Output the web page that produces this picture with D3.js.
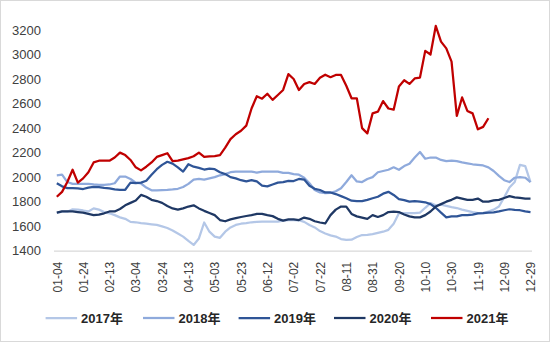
<!DOCTYPE html>
<html><head><meta charset="utf-8">
<script src="https://cdn.jsdelivr.net/npm/d3@7"></script>
<style>body{margin:0;background:#fff}svg{display:block}</style>
</head><body>
<svg id="c" width="550" height="342"></svg>
<script>
// x categories: tick labels every 20 days (leap-year calendar), data sampled every 4 days from 01-04
const tickLabels = ["01-04","01-24","02-13","03-04","03-24","04-13","05-03","05-23","06-12","07-02","07-22","08-11","08-31","09-20","10-10","10-30","11-19","12-09","12-29"];
const tickStepDays = 20;
const sampleStepDays = 4;
const yTicks = [1400,1600,1800,2000,2200,2400,2600,2800,3000,3200];
const seriesNames = ["2017年","2018年","2019年","2020年","2021年"];
const seriesColors = ["#b4c7e7","#8faadc","#2f5597","#1f3864","#c00000"];

const v2017 = [1708,1718,1718,1738,1735,1728,1720,1745,1735,1715, 1705,1690,1672,1660,1635,1632,1625,1620,1615,1610,
  1598,1585,1565,1540,1515,1480,1447,1500,1630,1555, 1515,1505,1555,1590,1610,1620,1625,1632,1635,1638,
  1638,1638,1638,1645,1650,1650,1648,1635,1610,1590, 1560,1540,1525,1515,1495,1488,1490,1512,1528,1530,
  1535,1545,1555,1570,1620,1706,1706,1706,1706,1710, 1750,1788,1770,1775,1765,1755,1748,1735,1725,1715,
  1706,1706,1720,1735,1760,1835,1915,1960,2100,2090, 1960];
const v2018 = [2015,2020,1960,1945,1945,1945,1945,1940,1937,1937, 1940,1950,2005,2005,1985,1955,1948,1915,1893,1893,
  1895,1897,1900,1905,1920,1945,1980,1985,1980,1990, 2000,2015,2025,2040,2045,2045,2045,2045,2037,2045,
  2045,2045,2045,2035,2035,2025,2020,1995,1950,1895, 1875,1870,1872,1885,1910,1960,2015,1965,1960,1985,
  2000,2040,2050,2060,2080,2060,2090,2110,2160,2205, 2150,2160,2160,2140,2130,2135,2130,2120,2113,2105,
  2100,2095,2080,2050,2010,1975,1960,1995,2000,1995, 1960];
const v2019 = [1950,1925,1910,1910,1908,1903,1915,1920,1918,1912, 1908,1900,1897,1897,1955,1952,1955,1970,2020,2065,
  2100,2125,2110,2080,2045,2105,2085,2075,2062,2070, 2065,2040,2025,2000,1990,1975,1965,1975,1965,1930,
  1925,1940,1955,1960,1970,1968,1985,1980,1930,1905, 1895,1875,1875,1862,1845,1828,1808,1805,1805,1815,
  1828,1840,1865,1880,1855,1820,1812,1800,1805,1800, 1795,1780,1750,1710,1672,1680,1680,1690,1690,1695,
  1705,1706,1710,1712,1720,1730,1738,1733,1730,1720, 1715];
const v2020 = [1710,1720,1720,1720,1715,1710,1700,1690,1695,1705, 1720,1720,1740,1770,1790,1810,1855,1840,1815,1805,
  1790,1765,1745,1735,1745,1760,1770,1745,1725,1708, 1690,1650,1640,1655,1665,1675,1683,1690,1700,1700,
  1690,1682,1660,1645,1655,1655,1650,1670,1660,1640, 1630,1622,1690,1735,1760,1760,1700,1680,1670,1660,
  1690,1675,1690,1715,1718,1715,1695,1680,1672,1672, 1690,1720,1760,1780,1800,1815,1835,1825,1815,1815,
  1825,1800,1800,1810,1815,1830,1845,1835,1830,1825, 1825];
const v2021 = [1840,1880,1960,2060,1955,1990,2040,2120,2134,2134, 2134,2160,2200,2180,2140,2080,2055,2085,2120,2165,
  2180,2195,2130,2135,2145,2155,2170,2200,2165,2170, 2172,2180,2240,2310,2350,2378,2420,2560,2660,2640,
  2680,2630,2670,2711,2840,2800,2710,2760,2775,2760, 2810,2835,2815,2833,2833,2745,2643,2643,2400,2357,
  2520,2534,2620,2560,2550,2740,2790,2760,2805,2812, 3030,3000,3233,3105,3050,2942,2500,2650,2540,2520,
  2390,2410,2480];

const allSeries = [v2017, v2018, v2019, v2020, v2021];

const svg = d3.select("#c");
const FONT = "'Liberation Sans', Arial, 'Noto Sans CJK SC', sans-serif";

svg.append("rect").attr("x",0.5).attr("y",0.5).attr("width",549).attr("height",341)
  .attr("fill","#fff").attr("stroke","#d9d9d9").attr("stroke-width",1);

const spanDays = (tickLabels.length - 1) * tickStepDays;
const x = d3.scaleLinear().domain([0, spanDays]).range([56.8, 530.5]);
const y = d3.scaleLinear().domain([1400, 3200]).range([250.7, 30]);

// Y axis
const yAxis = svg.append("g").attr("transform","translate(48,0)")
  .call(d3.axisLeft(y).tickValues(yTicks).tickSize(0).tickPadding(7).tickFormat(d3.format("d")));
yAxis.select(".domain").remove();
yAxis.selectAll("text").attr("font-family",FONT).attr("font-size",13).attr("fill","#404040");

// X axis
const xAxis = svg.append("g").attr("transform",`translate(0,${y(1400)})`)
  .call(d3.axisBottom(x).tickValues(tickLabels.map((_,i)=>i*tickStepDays))
     .tickFormat((d,i)=>tickLabels[i]).tickSize(0));
xAxis.select(".domain").attr("stroke","#d9d9d9").attr("stroke-width",1.2)
  .attr("d", `M54,0.5H532`);
xAxis.selectAll("text")
  .attr("font-family",FONT).attr("font-size",12).attr("fill","#404040")
  .attr("transform","rotate(-90)")
  .attr("text-anchor","end")
  .attr("x",-11).attr("y",0).attr("dy","0.35em");

// lines
const line = d3.line().x((d,i)=>x(i*sampleStepDays)).y(d=>y(d)).curve(d3.curveLinear);
allSeries.forEach((s,k)=>{
  svg.append("path").datum(s).attr("d",line).attr("fill","none")
    .attr("stroke",seriesColors[k]).attr("stroke-width",2.25)
    .attr("stroke-linejoin","round");
});

// legend
const legX = [45.6, 143, 238.6, 334, 431];
const legY = 318;
seriesNames.forEach((n,k)=>{
  const g = svg.append("g").attr("transform",`translate(${legX[k]},${legY})`);
  g.append("line").attr("x1",0).attr("x2",31.5).attr("y1",0).attr("y2",0)
    .attr("stroke",seriesColors[k]).attr("stroke-width",2.25);
  g.append("text").attr("x",35.5).attr("y",0).attr("dy","0.36em")
    .attr("font-family",FONT).attr("font-size",13).attr("font-weight","bold")
    .attr("fill","#262626").text(n);
});
</script>
</body></html>
